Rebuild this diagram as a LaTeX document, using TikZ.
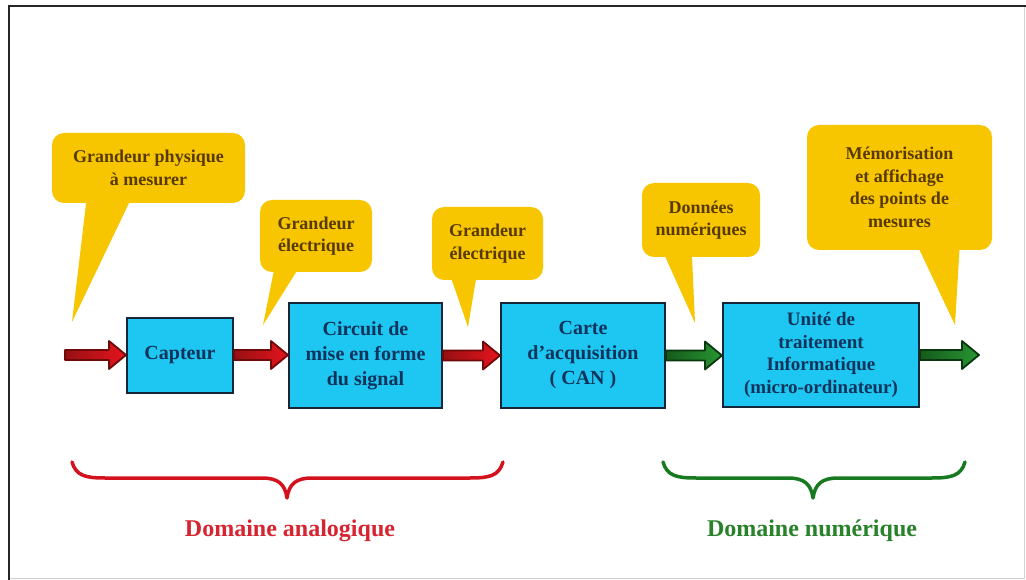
\documentclass[tikz,border=0pt]{standalone}
\usepackage{fontspec}
\setmainfont{Liberation Serif}
\usetikzlibrary{calc}
\definecolor{callfill}{RGB}{247,198,0}
\definecolor{calltext}{RGB}{88,58,0}
\definecolor{boxfill}{RGB}{30,198,242}
\definecolor{boxline}{RGB}{22,38,56}
\definecolor{boxtext}{RGB}{14,52,92}
\definecolor{arrred}{RGB}{230,20,30}
\definecolor{arrreddark}{RGB}{150,16,18}
\definecolor{arrredline}{RGB}{110,10,10}
\definecolor{arrgreen}{RGB}{40,150,50}
\definecolor{arrgreendark}{RGB}{22,90,28}
\definecolor{arrgreenline}{RGB}{10,55,15}
\definecolor{bracered}{RGB}{212,18,30}
\definecolor{bracegreen}{RGB}{24,122,32}
\definecolor{labred}{RGB}{214,36,48}
\definecolor{labgreen}{RGB}{40,130,42}
\newcommand\blockarr[3]{%
  \path[#3] let \p1=(#1), \p2=(#2) in
  (\x1,\y1+5pt) -- (\x2-17pt,\y1+5pt) -- (\x2-17pt,\y1+14pt) -- (\x2,\y1)
  -- (\x2-17pt,\y1-14pt) -- (\x2-17pt,\y1-5pt) -- (\x1,\y1-5pt) -- cycle;}
\begin{document}
\begin{tikzpicture}[x=1pt,y=-1pt,
  callout/.style={fill=callfill, rounded corners=12pt, inner sep=0pt, align=center,
    text=calltext, font=\fontsize{18}{22.5}\selectfont\bfseries},
  blockbox/.style={fill=boxfill, draw=boxline, line width=2pt, inner sep=0pt, align=center,
    text=boxtext, font=\fontsize{20}{25}\selectfont\bfseries},
  tail/.style={fill=callfill},
  redarr/.style={left color=arrreddark, right color=arrred, draw=arrredline, line width=1.8pt, line join=round},
  greenarr/.style={left color=arrgreendark, right color=arrgreen, draw=arrgreenline, line width=1.8pt, line join=round},
  bracer/.style={draw=bracered, line width=3.5pt, line cap=round, line join=round},
  braceg/.style={draw=bracegreen, line width=3.5pt, line cap=round, line join=round},
  domlab/.style={font=\fontsize{24}{28}\selectfont\bfseries}]
\useasboundingbox (0,0) rectangle (1026,580);
\fill[white] (0,0) rectangle (1026,580);
\draw[line width=1pt, black!18] (9,578) -- (1024,578) -- (1024,6);
\draw[line width=2.5pt, black!85] (9,580) -- (9,6) -- (1026,6);

% blocks
\node[blockbox, minimum width=106, minimum height=75] (cap) at (180,355) {Capteur};
\node[blockbox, minimum width=153, minimum height=105] (circ) at (365.5,355.5)
  {Circuit de\\mise en forme\\du signal};
\node[blockbox, minimum width=164, minimum height=105] (carte) at (583,355.5)
  {Carte\\d'acquisition\\( CAN )};
\node[blockbox, minimum width=196, minimum height=104, font=\fontsize{19}{22.5}\selectfont\bfseries]
  (unit) at (821,355) {Unité de\\traitement\\Informatique\\(micro-ordinateur)};

% arrows
\coordinate (in) at (65,355);
\coordinate (out) at (979,355);
\blockarr{in}{cap.west}{redarr}
\blockarr{cap.east}{circ.west}{redarr}
\blockarr{circ.east}{carte.west}{redarr}
\blockarr{carte.east}{unit.west}{greenarr}
\blockarr{unit.east}{out}{greenarr}

% callouts
\node[callout, minimum width=193, minimum height=70] (c1) at (148.5,168)
  {Grandeur physique\\à mesurer};
\node[callout, minimum width=112, minimum height=72] (c2) at (316,236)
  {Grandeur\\électrique};
\node[callout, minimum width=111, minimum height=73] (c3) at (487.5,243.5)
  {Grandeur\\électrique};
\node[callout, minimum width=118, minimum height=74] (c4) at (701,220)
  {Données\\numériques};
\node[callout, minimum width=185, minimum height=125] (c5) at (899.5,187.5)
  {Mémorisation\\et affichage\\des points de\\mesures};
\coordinate (t1) at (72,322);
\coordinate (t2) at (263,325);
\coordinate (t3) at (468,327);
\coordinate (t4) at (695,323);
\coordinate (t5) at (955,325);
\fill[tail] ([shift={(35pt,6pt)}]c1.south west) -- (t1) -- ([shift={(80pt,6pt)}]c1.south west) -- cycle;
\fill[tail] ([shift={(15pt,6pt)}]c2.south west) -- (t2) -- ([shift={(40pt,6pt)}]c2.south west) -- cycle;
\fill[tail] ([shift={(18pt,6pt)}]c3.south west) -- (t3) -- ([shift={(45pt,6pt)}]c3.south west) -- cycle;
\fill[tail] ([shift={(21pt,6pt)}]c4.south west) -- (t4) -- ([shift={(50pt,6pt)}]c4.south west) -- cycle;
\fill[tail] ([shift={(110pt,6pt)}]c5.south west) -- (t5) -- ([shift={(153pt,6pt)}]c5.south west) -- cycle;

% braces
\draw[bracer] (72,462) .. controls (76,476) and (86,478) .. (105,478) -- (262,478)
  .. controls (278,478) and (285,484) .. (287,498)
  .. controls (289,484) and (296,478) .. (312,478) -- (470,478)
  .. controls (489,478) and (499,476) .. (503,462);
\draw[braceg] (663,462) .. controls (667,476) and (677,478) .. (696,478) -- (788,478)
  .. controls (804,478) and (811,484) .. (813,498)
  .. controls (815,484) and (822,478) .. (838,478) -- (932,478)
  .. controls (951,478) and (961,476) .. (965,462);
\node[domlab, text=labred] (dana) at (290,531) {Domaine analogique};
\node[domlab, text=labgreen] (dnum) at (812,531) {Domaine numérique};
\end{tikzpicture}
\end{document}
